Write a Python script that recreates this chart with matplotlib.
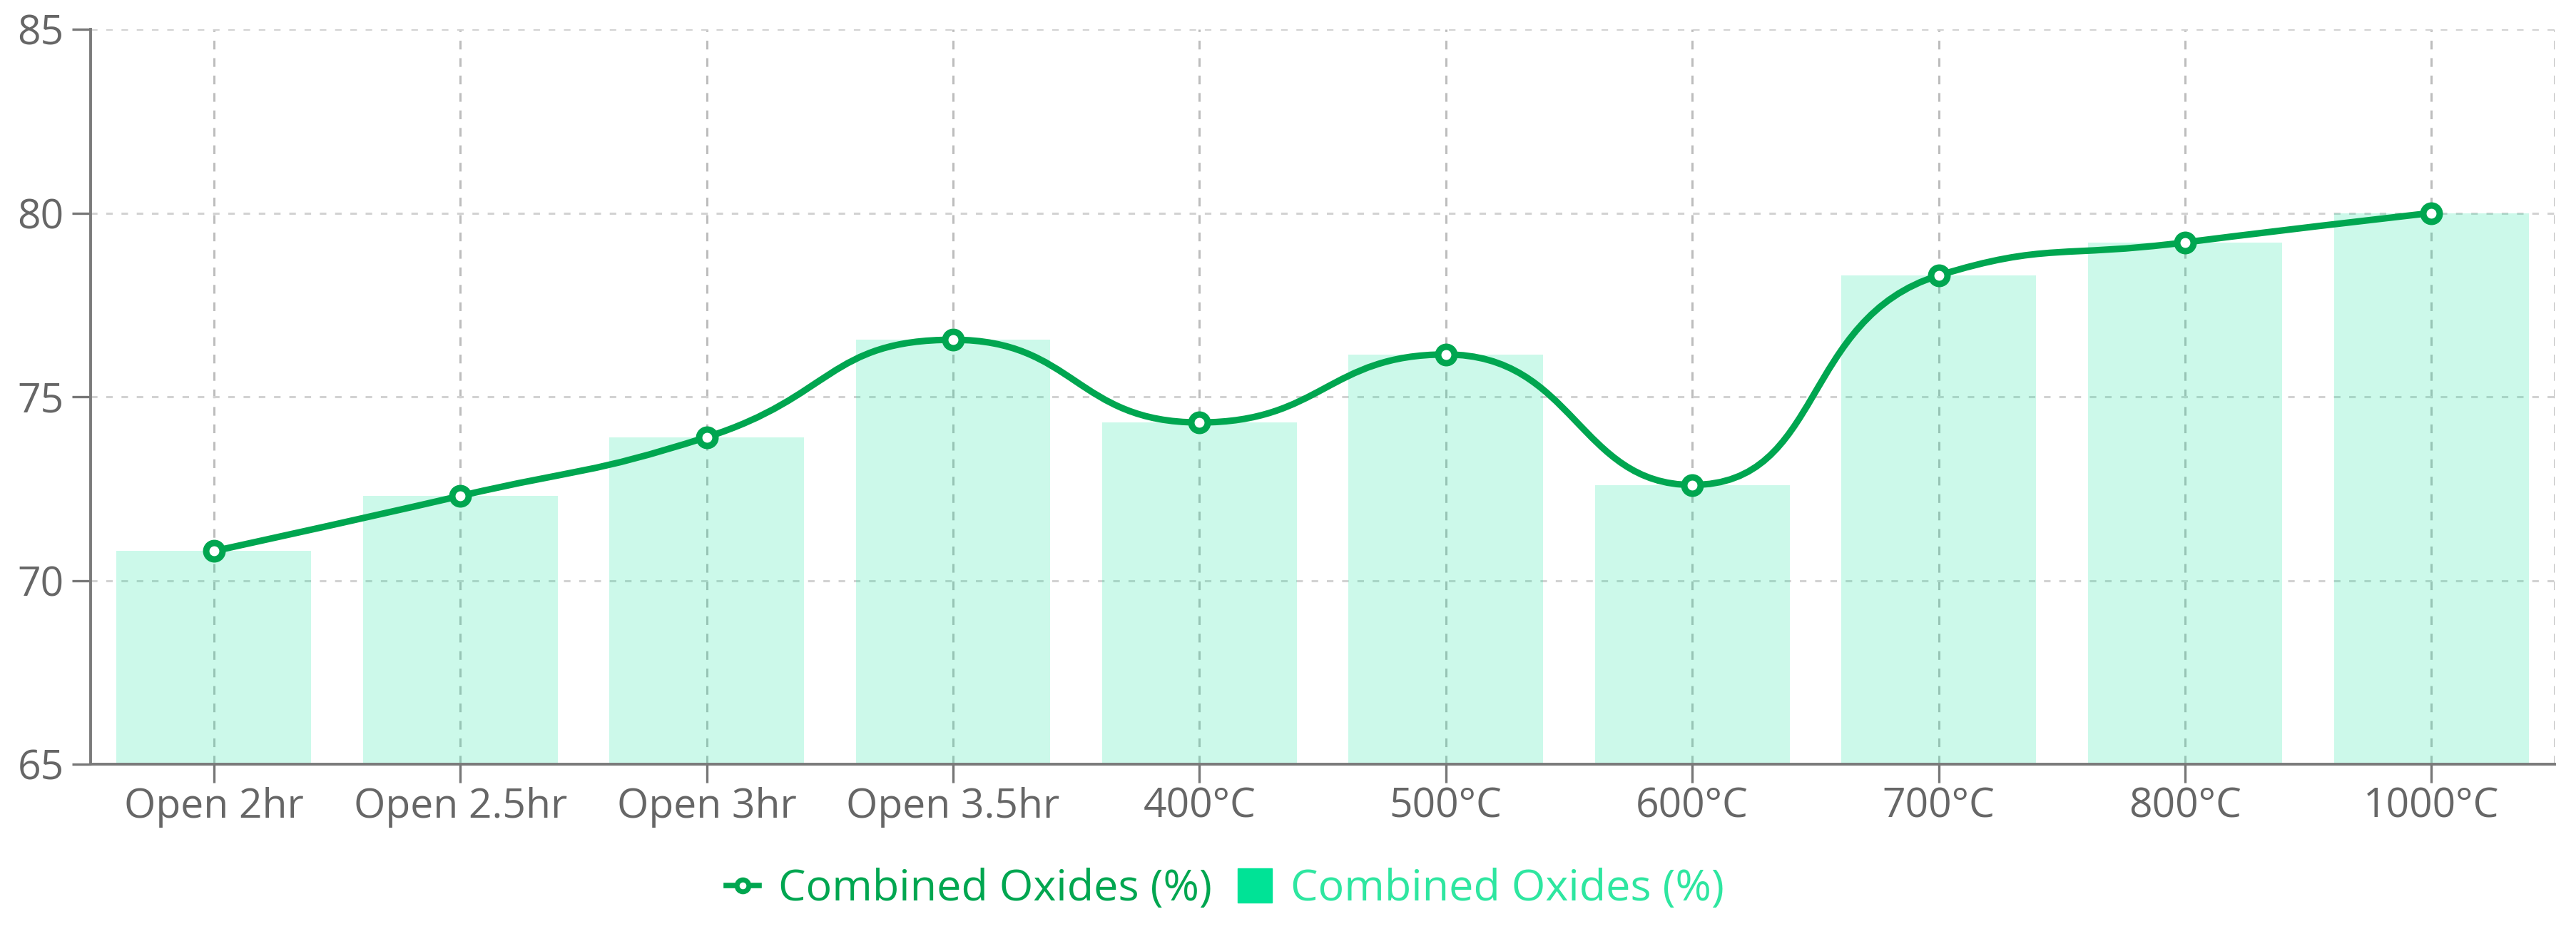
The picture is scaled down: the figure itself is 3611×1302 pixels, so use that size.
import numpy as np
import matplotlib

matplotlib.use("Agg")
import matplotlib.pyplot as plt
from matplotlib.path import Path
from matplotlib.patches import PathPatch
from matplotlib.lines import Line2D

categories = ["Open 2hr", "Open 2.5hr", "Open 3hr", "Open 3.5hr", "400°C",
              "500°C", "600°C", "700°C", "800°C", "1000°C"]
line_values = [70.8, 72.3, 73.9, 76.55, 74.3, 76.15, 72.6, 78.3, 79.2, 80.0]
bar_values = [70.8, 72.3, 73.9, 76.55, 74.3, 76.15, 72.6, 78.3, 79.2, 80.0]
series_name = "Combined Oxides (%)"
y_ticks = [65, 70, 75, 80, 85]

LINE_COLOR = "#00a650"
BAR_COLOR = "#00e396"
TEXT_COLOR = "#666666"

plt.rcParams["font.family"] = ["Open Sans", "DejaVu Sans"]


def smooth_path(ax, xs, ys, smooth=0.5):
    # echarts-style smoothed polyline, computed in screen space
    pts = ax.transData.transform(np.column_stack([xs, ys]))
    n = len(pts)
    verts = [tuple(pts[0])]
    codes = [Path.MOVETO]
    cp0 = pts[0].copy()
    for i in range(1, n):
        x, y = pts[i]
        px, py = pts[i - 1]
        if i == n - 1:
            cp1 = np.array([x, y])
            next_cp0 = None
        else:
            nx, ny = pts[i + 1]
            vx, vy = nx - px, ny - py
            len_prev = np.hypot(x - px, y - py)
            len_next = np.hypot(nx - x, ny - y)
            ratio = len_next / (len_next + len_prev)
            ncx = x + vx * smooth * ratio
            ncy = y + vy * smooth * ratio
            ncx = max(min(ncx, max(nx, x)), min(nx, x))
            ncy = max(min(ncy, max(ny, y)), min(ny, y))
            vx, vy = ncx - x, ncy - y
            c1x = x - vx * len_prev / len_next
            c1y = y - vy * len_prev / len_next
            c1x = max(min(c1x, max(px, x)), min(px, x))
            c1y = max(min(c1y, max(py, y)), min(py, y))
            vx, vy = x - c1x, y - c1y
            next_cp0 = np.array([x + vx * len_next / len_prev,
                                 y + vy * len_next / len_prev])
            cp1 = np.array([c1x, c1y])
        verts += [tuple(cp0), tuple(cp1), (x, y)]
        codes += [Path.CURVE4, Path.CURVE4, Path.CURVE4]
        if next_cp0 is not None:
            cp0 = next_cp0
    data_verts = ax.transData.inverted().transform(np.array(verts))
    return Path(data_verts, codes)


fig = plt.figure(figsize=(36.11, 13.02), dpi=100)
ax = fig.add_axes([0.0352, 0.1774, 0.9565, 0.7911])

x = np.arange(len(categories))
ax.set_xlim(-0.5, len(categories) - 0.5)
ax.set_ylim(65, 85)

ax.bar(x, bar_values, width=0.79, color=BAR_COLOR, alpha=0.2, zorder=2,
       linewidth=0)

path = smooth_path(ax, x, line_values)
ax.add_patch(PathPatch(path, facecolor="none", edgecolor=LINE_COLOR,
                       linewidth=6.6, zorder=4, capstyle="round", joinstyle="round"))
ax.plot(x, line_values, linestyle="none", marker="o", markersize=16.5,
        markerfacecolor="white", markeredgecolor=LINE_COLOR, markeredgewidth=6.5,
        zorder=5)

ax.set_xticks(x)
ax.set_xticklabels(categories)
ax.set_yticks(y_ticks)
ax.tick_params(axis="both", colors="#777777", labelcolor=TEXT_COLOR,
               labelsize=41, length=19, width=2.4, direction="out")
ax.tick_params(axis="y", pad=8)
ax.tick_params(axis="x", pad=4)

ax.grid(axis="y", color="#d2d2d2", linestyle=(0, (3, 4)), linewidth=2.2, zorder=1)
ax.grid(axis="x", color="#bdbdbd", linestyle=(0, (4, 4)), linewidth=2.2, zorder=1)
ax.axvline(len(categories) - 0.5, color="#bdbdbd", linestyle=(0, (4, 4)),
           linewidth=2.2, zorder=1)
ax.set_axisbelow(True)

for side in ("top", "right"):
    ax.spines[side].set_visible(False)
for side in ("left", "bottom"):
    ax.spines[side].set_color("#7a7a7a")
    ax.spines[side].set_linewidth(2.8)
    ax.spines[side].set_zorder(6)

handles = [
    Line2D([], [], color=LINE_COLOR, linewidth=5.5, marker="o", markersize=12,
           markerfacecolor="white", markeredgecolor=LINE_COLOR, markeredgewidth=5),
    Line2D([], [], color=BAR_COLOR, linestyle="none", marker="s", markersize=34),
]
leg = fig.legend(handles, [series_name, series_name], loc="center",
                 bbox_to_anchor=(0.4757, 0.043), ncol=2, frameon=False,
                 fontsize=44, handlelength=0.75, handletextpad=0.45,
                 columnspacing=0.6)
for txt, col in zip(leg.get_texts(), [LINE_COLOR, "#2ee6a0"]):
    txt.set_color(col)

fig.savefig("out.png", dpi=100)
